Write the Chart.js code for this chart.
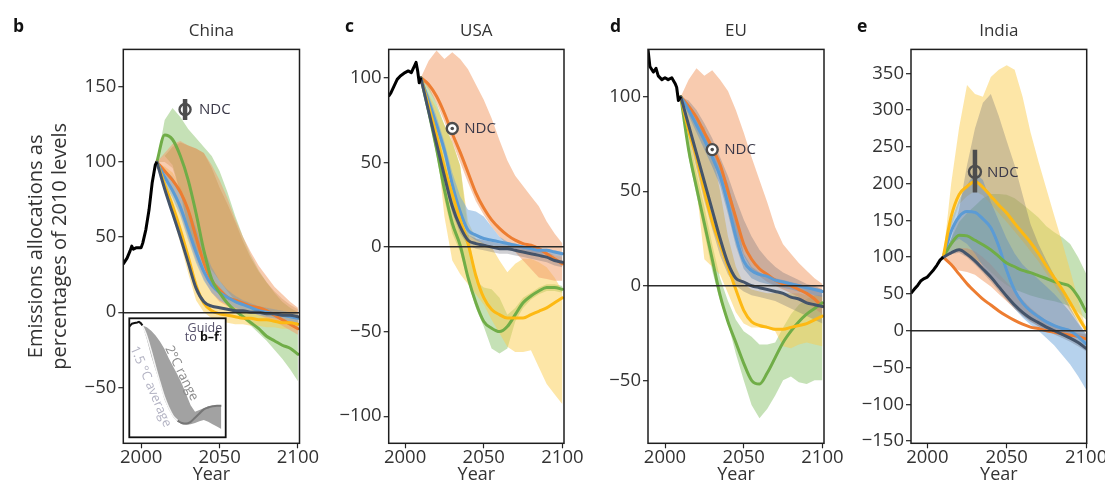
<!DOCTYPE html>
<html lang="en">
<head>
<meta charset="utf-8">
<title>Emissions allocations as percentages of 2010 levels</title>
<script src="https://cdn.jsdelivr.net/npm/chart.js@4.4.1/dist/chart.umd.min.js"></script>
<style>
  html, body { margin: 0; padding: 0; background: #fff; }
  #stage { position: relative; width: 1105px; height: 486px; overflow: hidden; }
  #stage canvas { position: absolute; left: 0; top: 0; }
  .tag { position: absolute; font: bold 17.5px "Open Sans", sans-serif; line-height: 17.5px; color: #111; }
</style>
</head>
<body>
<div id="stage">
  <canvas id="cn" width="1105" height="486"></canvas>
  <canvas id="us" width="1105" height="486"></canvas>
  <canvas id="eu" width="1105" height="486"></canvas>
  <canvas id="in" width="1105" height="486"></canvas>
  <canvas id="guide" width="1105" height="486"></canvas>
  <div class="tag" style="left:13px;top:17px">b</div>
  <div class="tag" style="left:345px;top:17px">c</div>
  <div class="tag" style="left:610px;top:17px">d</div>
  <div class="tag" style="left:857px;top:17px">e</div>
</div>
<script>
// ---- shared axes ----
const years = [2010,2015,2020,2025,2030,2035,2040,2045,2050,2055,2060,2065,2070,2075,2080,2085,2090,2095,2100];
const xTicks = [2000, 2050, 2100];
const chinaTicks = [-50, 0, 50, 100, 150];
const usTicks = [-100, -50, 0, 50, 100];
const euTicks = [-50, 0, 50, 100];
const indiaTicks = [-150, -100, -50, 0, 50, 100, 150, 200, 250, 300, 350];

// ---- China ----
const chinaHistYears = [1988.5, 1991, 1993, 1994, 1995, 1997, 2000, 2001, 2003, 2005, 2007, 2009, 2010];
const chinaHist = [32, 36, 41, 44, 42, 43, 43, 46, 55, 68, 86, 98, 100];
const chinaOrange = [100,94,88,80,68,50,33,21,15,10,8,6,4,3,1,-2,-5,-8,-11];
const chinaBlue = [100,90,81,70,55,40,27,18,13,10,7,5,3,1,0,-1,-2,-3,-4];
const chinaGreen = [100,118,115,104,88,66,41,22,13,6,1,-3,-7,-11,-16,-19,-22,-24,-28];
const chinaYellow = [100,85,71,55,37,18,6,1,-1,-2,-3,-4,-4,-5,-5,-6,-7,-7,-8];
const chinaDark = [100,82,66,50,33,16,7,4,3,2,1,1,0,0,-1,-1,-2,-2,-3];
const chinaOrangeLo = [100,92,80,66,50,35,22,13,7,4,2,1,0,-2,-4,-6,-9,-12,-15];
const chinaOrangeHi = [100,106,112,114,111,109,106,98,88,76,62,50,40,31,24,17,12,7,3];
const chinaGreenLo = [100,104,98,80,55,40,30,22,12,5,0,-4,-9,-14,-19,-25,-31,-38,-46];
const chinaGreenHi = [100,128,136,130,122,116,110,104,94,80,64,50,38,28,20,13,7,3,0];
const chinaBlueLo = [100,86,76,64,48,33,21,13,8,5,3,1,0,-2,-3,-4,-5,-6,-7];
const chinaBlueHi = [100,95,90,82,70,56,42,30,21,15,11,8,6,4,3,2,1,0,-1];
const chinaYellowLo = [100,80,64,46,26,8,0,-4,-6,-7,-8,-8,-9,-9,-10,-10,-11,-11,-12];
const chinaYellowHi = [100,97,93,84,70,54,40,28,18,12,8,6,4,3,2,1,0,-1,-2];
const chinaGrayLo = [100,100,96,80,55,42,34,28,21,14,8,5,3,1,0,-1,-2,-3,-4];
const chinaGrayHi = [100,104,110,113,111,109,106,96,83,72,60,47,36,27,20,14,9,5,2];
const chinaNdc = { year: 2028, value: 135, lo: 128, hi: 142 };

// ---- USA ----
const usHistYears = [1989.5, 1991, 1993, 1995, 1997, 2000, 2002, 2004, 2005, 2006, 2007, 2008, 2009, 2010];
const usHist = [89, 91, 95, 99, 101, 103, 104, 103, 105, 107, 109, 104, 97, 100];
const usOrange = [100,96,89,79,67,56,44,32,23,16,11,7,4,2,1,-1,-4,-7,-10];
const usBlue = [100,86,72,57,37,21,10,7,5,4,3,2,1,0,-1,-2,-2,-3,-4];
const usGreen = [100,80,58,34,14,1,-18,-33,-44,-48,-50,-47,-40,-33,-29,-26,-24,-24,-25];
const usYellow = [100,83,66,47,31,16,2,-17,-30,-37,-40,-42,-42,-42,-40,-38,-36,-33,-30];
const usDark = [100,80,61,42,24,12,4,2,1,0,-1,-1,-2,-3,-4,-5,-6,-8,-9];
const usOrangeLo = [100,93,85,74,62,50,38,27,19,12,6,1,-3,-8,-13,-18,-19,-20,-20];
const usOrangeHi = [100,110,116,111,115,111,105,96,87,76,63,51,42,36,30,24,15,8,2];
const usYellowLo = [100,82,62,18,-8,-16,-22,-28,-34,-43,-51,-59,-62,-62,-61,-71,-81,-87,-93];
const usYellowHi = [100,90,82,72,62,48,15,5,2,0,-8,-15,-10,-7,-7,-9,-12,-18,-26];
const usGreenLo = [100,77,54,28,8,-3,-21,-36,-47,-60,-63,-60,-44,-36,-31,-28,-26,-26,-27];
const usGreenHi = [100,95,85,72,62,48,10,-20,-24,-25,-30,-40,-36,-30,-27,-24,-22,-22,-23];
const usBlueLo = [100,83,69,54,34,18,7,4,2,1,0,-1,-1,-2,-3,-4,-4,-5,-6];
const usBlueHi = [100,90,77,62,44,30,22,21,18,12,6,3,2,1,0,-1,-1,-2,-3];
const usDarkLo = [100,77,57,38,20,8,1,-1,-2,-3,-4,-4,-5,-6,-7,-8,-9,-11,-12];
const usDarkHi = [100,83,65,46,28,16,7,5,4,3,2,2,1,0,-1,-2,-3,-5,-6];
const usNdc = { year: 2030, value: 70 };

// ---- EU ----
const euHistYears = [1989.2, 1990.4, 1992.6, 1994.3, 1995.7, 1998, 2000, 2002, 2004.3, 2006.4, 2007.4, 2008.5, 2010];
const euHist = [125, 116, 113, 115, 111, 109, 110, 109, 110, 107, 105, 98, 100];
const euOrange = [100,95,89,81,73,64,50,36,22,14,9,6,3,1,0,-2,-4,-7,-11];
const euBlue = [100,93,85,77,68,58,43,26,13,8,6,5,3,2,1,0,-1,-2,-3];
const euGreen = [100,72,52,33,14,-5,-19,-30,-41,-50,-52,-46,-38,-30,-24,-19,-15,-12,-9];
const euYellow = [100,82,68,50,34,22,10,-2,-13,-19,-21,-22,-23,-23,-22,-21,-20,-18,-16];
const euDark = [100,85,70,55,40,25,12,4,2,0,-1,-2,-3,-4,-6,-7,-9,-10,-11];
const euOrangeLo = [100,93,86,77,67,56,42,28,16,9,5,2,0,-2,-4,-6,-9,-12,-15];
const euOrangeHi = [100,109,115,111,114,109,103,93,81,68,56,44,31,22,17,12,8,4,1];
const euDarkLo = [100,80,62,45,30,16,6,0,-3,-5,-6,-7,-8,-10,-12,-14,-16,-18,-20];
const euDarkHi = [100,98,93,86,78,68,58,46,35,26,19,14,10,7,5,3,1,0,-2];
const euYellowLo = [100,78,52,14,10,6,-4,-14,-20,-22,-22,-22,-24,-32,-33,-31,-30,-31,-32];
const euYellowHi = [100,93,86,84,70,50,26,10,1,-2,-3,-4,-4,-4,-4,-4,-5,-5,-6];
const euGreenLo = [100,68,48,28,8,-8,-20,-36,-50,-63,-70,-65,-58,-50,-48,-51,-52,-50,-50];
const euGreenHi = [100,80,60,42,22,4,-8,-18,-24,-27,-31,-31,-30,-22,-15,-10,-7,-5,-5];
const euBlueLo = [100,90,81,72,63,53,38,21,9,4,2,1,0,-1,-2,-3,-4,-5,-6];
const euBlueHi = [100,96,90,82,74,64,54,38,17,10,7,5,4,3,2,1,0,-1,-2];
const euNdc = { year: 2030, value: 72 };

// ---- India ----
const indiaHistYears = [1989.7, 1992, 1994, 1996, 1998, 2000, 2002, 2004, 2006, 2008, 2010];
const indiaHist = [51, 57, 62, 68, 71, 73, 78, 83, 89, 96, 100];
const indiaYellow = [100,155,185,196,203,195,183,171,160,146,133,120,105,88,72,56,38,19,1];
const indiaBlue = [100,135,155,162,161,152,140,115,82,55,38,27,19,12,7,3,0,-8,-18];
const indiaGreen = [100,118,130,129,123,117,110,101,92,87,82,79,75,71,67,64,60,46,26];
const indiaDark = [100,106,110,104,95,84,73,60,47,35,25,17,11,5,0,-5,-10,-16,-24];
const indiaOrange = [100,90,77,64,53,43,35,27,20,14,9,5,3,0,-2,-4,-6,-8,-11];
const indiaYellowLo = [100,140,172,183,190,184,172,160,148,135,122,108,94,78,62,46,28,12,0];
const indiaYellowHi = [100,200,276,334,322,318,345,355,361,355,318,270,230,193,156,120,82,42,2];
const indiaDarkLo = [100,104,106,100,90,79,67,54,41,30,20,12,6,0,-5,-10,-15,-21,-28];
const indiaDarkHi = [100,125,165,225,275,310,322,292,258,225,185,145,118,96,75,54,32,12,-4];
const indiaGreenLo = [100,108,110,105,98,90,80,70,62,56,52,48,45,42,40,37,33,25,15];
const indiaGreenHi = [100,125,148,160,170,180,186,186,185,180,172,163,154,142,134,127,118,100,78];
const indiaBlueLo = [100,118,125,118,105,88,72,60,45,30,18,8,0,-10,-20,-33,-46,-62,-80];
const indiaBlueHi = [100,150,178,198,215,205,175,150,125,105,90,80,70,60,50,38,25,10,-5];
const indiaOrangeLo = [100,88,82,80,76,68,60,50,40,30,21,13,6,1,-2,-4,-6,-8,-10];
const indiaOrangeHi = [100,106,112,112,108,100,90,78,66,54,42,31,22,14,8,3,0,-3,-5];
const indiaNdc = { year: 2030, value: 216, lo: 188, hi: 246 };

// ---- guide inset ----
const guideHistYears = [1990, 1993, 1996, 1999, 2001, 2003, 2005];
const guideHist = [106, 111, 112, 113, 114, 112, 108];
const guideYears = [2005,2010,2015,2020,2025,2030,2035,2040,2045,2050,2055,2060,2065,2070,2075,2080,2085,2090,2095];
const guideRangeHi = [108,105,99,91,81,69,53,39,25,10,-8,-26,-37,-34,-31,-28,-26,-26,-27];
const guideRangeLo = [108,85,57,33,10,-16,-33,-46,-54,-58,-59,-58,-56,-53,-51,-54,-58,-62,-66];
const guideAvgYears = [2005,2010,2015,2020,2025,2030,2035,2040,2045];
const guideAvg15 = [108,90,65,38,12,-12,-30,-44,-52];
const guideTrailYears = [2045,2050,2055,2060,2065,2070,2075,2080,2085,2090,2095];
const guideTrail = [-52,-56,-57,-54,-47,-40,-33,-30,-28,-27,-27];

// ---- styling ----
const FONT = '"Open Sans", sans-serif';
const INK = '#333';
const LINE_COLOR = { orange: '#ED7D31', blue: '#5B9BD5', green: '#70AD47', yellow: '#FDB913', dark: '#44546A' };
const BAND_FILL = {
  orange: 'rgba(242,160,110,0.55)',
  green: 'rgba(140,195,110,0.5)',
  blue: 'rgba(110,165,220,0.5)',
  yellow: 'rgba(252,205,80,0.5)',
  dark: 'rgba(100,100,112,0.3)',
  umber: 'rgba(190,120,40,0.25)'
};
// higher order = painted earlier (further back)
const BAND_ORDER = { green: 22, yellow: 21, orange: 19, blue: 17, dark: 16, umber: 15 };
const LINE_STACK = ['orange', 'blue', 'green', 'yellow', 'dark'];

const pts = (xs, ys) => xs.map((x, i) => ({ x, y: ys[i] }));
const fmtY = v => (v < 0 ? '\u2212' + Math.abs(v) : String(v));

// plot frame around each chart area
const framePlugin = {
  id: 'frame',
  afterDraw(chart, args, opts) {
    const { ctx, chartArea: a } = chart;
    ctx.save();
    ctx.lineWidth = opts.width || 1.5;
    ctx.strokeStyle = opts.color || '#1e1e1e';
    ctx.strokeRect(a.left, a.top, a.right - a.left, a.bottom - a.top);
    ctx.restore();
  }
};

// "NDC" caption next to the pledge marker
const ndcLabelPlugin = {
  id: 'ndcLabel',
  afterDatasetsDraw(chart, args, opts) {
    if (!opts || !opts.text) return;
    const { ctx, scales } = chart;
    const x = scales.x.getPixelForValue(opts.year) + opts.dx;
    const y = scales.y.getPixelForValue(opts.value);
    ctx.save();
    ctx.font = '15px ' + FONT;
    ctx.fillStyle = '#3a3848';
    ctx.textAlign = 'left';
    ctx.textBaseline = 'middle';
    ctx.fillText(opts.text, x, y + 0.5);
    ctx.restore();
  }
};

function buildPanel(p) {
  const datasets = [];
  p.bands.forEach(b => {
    const low = datasets.length;
    datasets.push({ data: pts(years, b.lo), borderWidth: 0, borderColor: 'transparent', pointRadius: 0, fill: false, tension: 0, order: BAND_ORDER[b.key] });
    datasets.push({ data: pts(years, b.hi), borderWidth: 0, borderColor: 'transparent', pointRadius: 0, fill: { target: low }, backgroundColor: BAND_FILL[b.key], tension: 0, order: BAND_ORDER[b.key] });
  });
  LINE_STACK.forEach((key, i) => {
    datasets.push({ data: pts(years, p.lines[key]), borderColor: LINE_COLOR[key], borderWidth: 3, pointRadius: 0, fill: false, cubicInterpolationMode: 'monotone', borderCapStyle: 'round', borderJoinStyle: 'round', order: 8 - i });
  });
  datasets.push({ data: pts(p.histYears, p.hist), borderColor: '#000', borderWidth: 3, pointRadius: 0, fill: false, tension: 0, borderJoinStyle: 'round', order: 1 });
  const n = p.ndc;
  if (n.lo !== undefined) {
    datasets.push({ data: [{ x: n.year, y: n.lo }, { x: n.year, y: n.hi }], borderColor: '#4d4d4d', borderWidth: 4.5, pointRadius: 0, fill: false, order: 0.6 });
  }
  datasets.push({ data: [{ x: n.year, y: n.value }], showLine: false, pointRadius: p.ndcRadius, pointBorderWidth: 2.4, pointBorderColor: '#4d4d4d', pointBackgroundColor: n.lo !== undefined ? 'rgba(255,255,255,0)' : '#ffffff', order: 0.4 });
  if (n.lo === undefined) {
    datasets.push({ data: [{ x: n.year, y: n.value }], showLine: false, pointRadius: 1.8, pointBorderWidth: 0, pointBackgroundColor: '#4d4d4d', order: 0.2 });
  }

  const yTitle = p.yTitle
    ? { display: true, text: ['Emissions allocations as', 'percentages of 2010 levels'], color: INK, font: { size: 20, lineHeight: 1.2 }, padding: { top: 24, bottom: 0 } }
    : { display: false };

  return new Chart(document.getElementById(p.id), {
    type: 'line',
    data: { datasets },
    plugins: [framePlugin, ndcLabelPlugin],
    options: {
      responsive: false,
      animation: false,
      devicePixelRatio: 1,
      events: [],
      layout: { padding: { left: p.left - p.yAxisW, right: 1105 - p.right, top: 0, bottom: 0 } },
      plugins: {
        legend: { display: false },
        tooltip: { enabled: false },
        title: { display: true, text: p.title, fullSize: false, color: INK, font: { size: 17, weight: 'normal' }, padding: { top: 21, bottom: 8 } },
        frame: { width: 1.5, color: '#1e1e1e' },
        ndcLabel: { text: 'NDC', year: n.year, value: n.value, dx: p.ndcDx }
      },
      scales: {
        x: {
          type: 'linear', min: p.xMin, max: p.xMax,
          afterBuildTicks: s => { s.ticks = xTicks.map(v => ({ value: v })); },
          afterFit: s => { s.height = 486 - p.bottom; s.paddingLeft = 0; s.paddingRight = 0; },
          grid: { drawOnChartArea: false, tickLength: 5, tickColor: '#222', tickWidth: 1.2 },
          border: { display: false },
          ticks: { padding: 0, color: INK, font: { size: 18.5, lineHeight: 1 }, maxRotation: 0, autoSkip: false, callback: v => String(v) },
          title: { display: true, text: 'Year', color: INK, font: { size: 18 }, padding: { top: 0, bottom: 0 } }
        },
        y: {
          type: 'linear', min: p.yMin, max: p.yMax,
          afterBuildTicks: s => { s.ticks = p.yTicks.map(v => ({ value: v })); },
          afterFit: s => { s.width = p.yAxisW; s.paddingTop = 0; s.paddingBottom = 0; },
          grid: {
            z: 1,
            color: c => (c.tick && c.tick.value === 0 ? '#2b2b2b' : 'rgba(0,0,0,0)'),
            lineWidth: 1.4, tickLength: 5, tickColor: '#222', tickWidth: 1.2
          },
          border: { display: false },
          ticks: { padding: 2, color: INK, font: { size: 18.5 }, autoSkip: false, callback: fmtY },
          title: yTitle
        }
      }
    }
  });
}

// small explanatory inset inside the China panel
const guideBoxPlugin = {
  id: 'guideBox',
  beforeDatasetsDraw(chart) {
    const { ctx, chartArea: a } = chart;
    ctx.save();
    ctx.fillStyle = '#fff';
    ctx.fillRect(a.left, a.top, a.right - a.left, a.bottom - a.top);
    ctx.restore();
  },
  afterDraw(chart) {
    const { ctx, chartArea: a } = chart;
    ctx.save();
    ctx.lineWidth = 1.8;
    ctx.strokeStyle = '#111';
    ctx.strokeRect(a.left, a.top, a.right - a.left, a.bottom - a.top);
    ctx.restore();
  }
};

function rotatedText(ctx, text, x, y, deg, font, color) {
  ctx.save();
  ctx.translate(x, y);
  ctx.rotate(deg * Math.PI / 180);
  ctx.font = font;
  ctx.fillStyle = color;
  ctx.textAlign = 'center';
  ctx.textBaseline = 'middle';
  ctx.fillText(text, 0, 0);
  ctx.restore();
}

const guideNotesPlugin = {
  id: 'guideNotes',
  afterDatasetsDraw(chart) {
    const { ctx, chartArea: a } = chart;
    const reg = '12.5px ' + FONT;
    const bold = 'bold 12.5px ' + FONT;
    ctx.save();
    ctx.fillStyle = '#55506a';
    ctx.textBaseline = 'alphabetic';
    ctx.textAlign = 'right';
    ctx.font = reg;
    ctx.fillText('Guide', a.right - 3.5, a.top + 13.4);
    ctx.textAlign = 'left';
    const wTo = ctx.measureText('to ').width;
    const wColon = ctx.measureText(':').width;
    ctx.font = bold;
    const wBf = ctx.measureText('b\u2013f').width;
    let x = a.right - 3.5 - (wTo + wBf + wColon);
    const y = a.top + 22.7;
    ctx.font = reg; ctx.fillText('to ', x, y); x += wTo;
    ctx.font = bold; ctx.fillStyle = '#111'; ctx.fillText('b\u2013f', x, y); x += wBf;
    ctx.font = reg; ctx.fillStyle = '#55506a'; ctx.fillText(':', x, y);
    ctx.restore();
    rotatedText(ctx, '2\u00B0C range', a.left + 52.2, a.top + 55, 63.5, '13px ' + FONT, '#8a8a8a');
    rotatedText(ctx, '1.5 \u00B0C average', a.left + 21.4, a.top + 68.4, 67, '13px ' + FONT, '#b3b3c3');
  }
};

function buildGuide() {
  const g = { left: 129.3, right: 225.7, top: 318.3, bottom: 437.3 };
  return new Chart(document.getElementById('guide'), {
    type: 'line',
    data: {
      datasets: [
        { data: pts(guideHistYears, guideHist), borderColor: '#111', borderWidth: 2, pointRadius: 0, tension: 0, order: 0 },
        { data: pts(guideAvgYears, guideAvg15), borderColor: '#f4f4f4', borderWidth: 1.6, pointRadius: 0, cubicInterpolationMode: 'monotone', order: 1 },
        { data: pts(guideTrailYears, guideTrail), borderColor: '#767676', borderWidth: 2, pointRadius: 0, cubicInterpolationMode: 'monotone', order: 2 },
        { data: pts(guideYears, guideRangeLo), borderWidth: 0, borderColor: 'transparent', pointRadius: 0, fill: false, tension: 0, order: 5 },
        { data: pts(guideYears, guideRangeHi), borderWidth: 0, borderColor: 'transparent', pointRadius: 0, fill: { target: 3 }, backgroundColor: '#a2a2a2', tension: 0, order: 5 }
      ]
    },
    plugins: [guideBoxPlugin, guideNotesPlugin],
    options: {
      responsive: false,
      animation: false,
      devicePixelRatio: 1,
      events: [],
      layout: { padding: { left: g.left, right: 1105 - g.right, top: g.top, bottom: 486 - g.bottom } },
      plugins: { legend: { display: false }, tooltip: { enabled: false } },
      scales: {
        x: { type: 'linear', display: false, min: 1990, max: 2100 },
        y: { type: 'linear', display: false, min: -80, max: 120 }
      }
    }
  });
}

const panels = [
  {
    id: 'cn', title: 'China', left: 123.3, right: 299.5, bottom: 443.3, yAxisW: 123.3, yTitle: true,
    xMin: 1988.6, xMax: 2101, yMin: -87.3, yMax: 175, yTicks: chinaTicks,
    histYears: chinaHistYears, hist: chinaHist,
    lines: { orange: chinaOrange, blue: chinaBlue, green: chinaGreen, yellow: chinaYellow, dark: chinaDark },
    bands: [
      { key: 'yellow', lo: chinaYellowLo, hi: chinaYellowHi },
      { key: 'orange', lo: chinaOrangeLo, hi: chinaOrangeHi },
      { key: 'green', lo: chinaGreenLo, hi: chinaGreenHi },
      { key: 'blue', lo: chinaBlueLo, hi: chinaBlueHi },
      { key: 'umber', lo: chinaGrayLo, hi: chinaGrayHi }
    ],
    ndc: chinaNdc, ndcRadius: 5.5, ndcDx: 14
  },
  {
    id: 'us', title: 'USA', left: 388.7, right: 564, bottom: 443.3, yAxisW: 60,
    xMin: 1989.6, xMax: 2101, yMin: -116, yMax: 116.7, yTicks: usTicks,
    histYears: usHistYears, hist: usHist,
    lines: { orange: usOrange, blue: usBlue, green: usGreen, yellow: usYellow, dark: usDark },
    bands: [
      { key: 'yellow', lo: usYellowLo, hi: usYellowHi },
      { key: 'orange', lo: usOrangeLo, hi: usOrangeHi },
      { key: 'green', lo: usGreenLo, hi: usGreenHi },
      { key: 'blue', lo: usBlueLo, hi: usBlueHi },
      { key: 'dark', lo: usDarkLo, hi: usDarkHi }
    ],
    ndc: usNdc, ndcRadius: 5.5, ndcDx: 12
  },
  {
    id: 'eu', title: 'EU', left: 648, right: 824, bottom: 443.3, yAxisW: 60,
    xMin: 1989.2, xMax: 2101, yMin: -83.3, yMax: 125, yTicks: euTicks,
    histYears: euHistYears, hist: euHist,
    lines: { orange: euOrange, blue: euBlue, green: euGreen, yellow: euYellow, dark: euDark },
    bands: [
      { key: 'yellow', lo: euYellowLo, hi: euYellowHi },
      { key: 'orange', lo: euOrangeLo, hi: euOrangeHi },
      { key: 'green', lo: euGreenLo, hi: euGreenHi },
      { key: 'blue', lo: euBlueLo, hi: euBlueHi },
      { key: 'dark', lo: euDarkLo, hi: euDarkHi }
    ],
    ndc: euNdc, ndcRadius: 5.5, ndcDx: 12
  },
  {
    id: 'in', title: 'India', left: 911, right: 1086.7, bottom: 443.3, yAxisW: 60,
    xMin: 1989.7, xMax: 2100.4, yMin: -153, yMax: 382.5, yTicks: indiaTicks,
    histYears: indiaHistYears, hist: indiaHist,
    lines: { orange: indiaOrange, blue: indiaBlue, green: indiaGreen, yellow: indiaYellow, dark: indiaDark },
    bands: [
      { key: 'yellow', lo: indiaYellowLo, hi: indiaYellowHi },
      { key: 'orange', lo: indiaOrangeLo, hi: indiaOrangeHi },
      { key: 'green', lo: indiaGreenLo, hi: indiaGreenHi },
      { key: 'blue', lo: indiaBlueLo, hi: indiaBlueHi },
      { key: 'dark', lo: indiaDarkLo, hi: indiaDarkHi }
    ],
    ndc: indiaNdc, ndcRadius: 6, ndcDx: 12
  }
];

function build() {
  Chart.defaults.font.family = FONT;
  Chart.defaults.color = INK;
  panels.forEach(buildPanel);
  buildGuide();
}

const ready = (document.fonts && document.fonts.load)
  ? Promise.all(['18px "Open Sans"', 'bold 18px "Open Sans"'].map(f => document.fonts.load(f))).catch(() => {})
  : Promise.resolve();
ready.then(build);
</script>
</body>
</html>
